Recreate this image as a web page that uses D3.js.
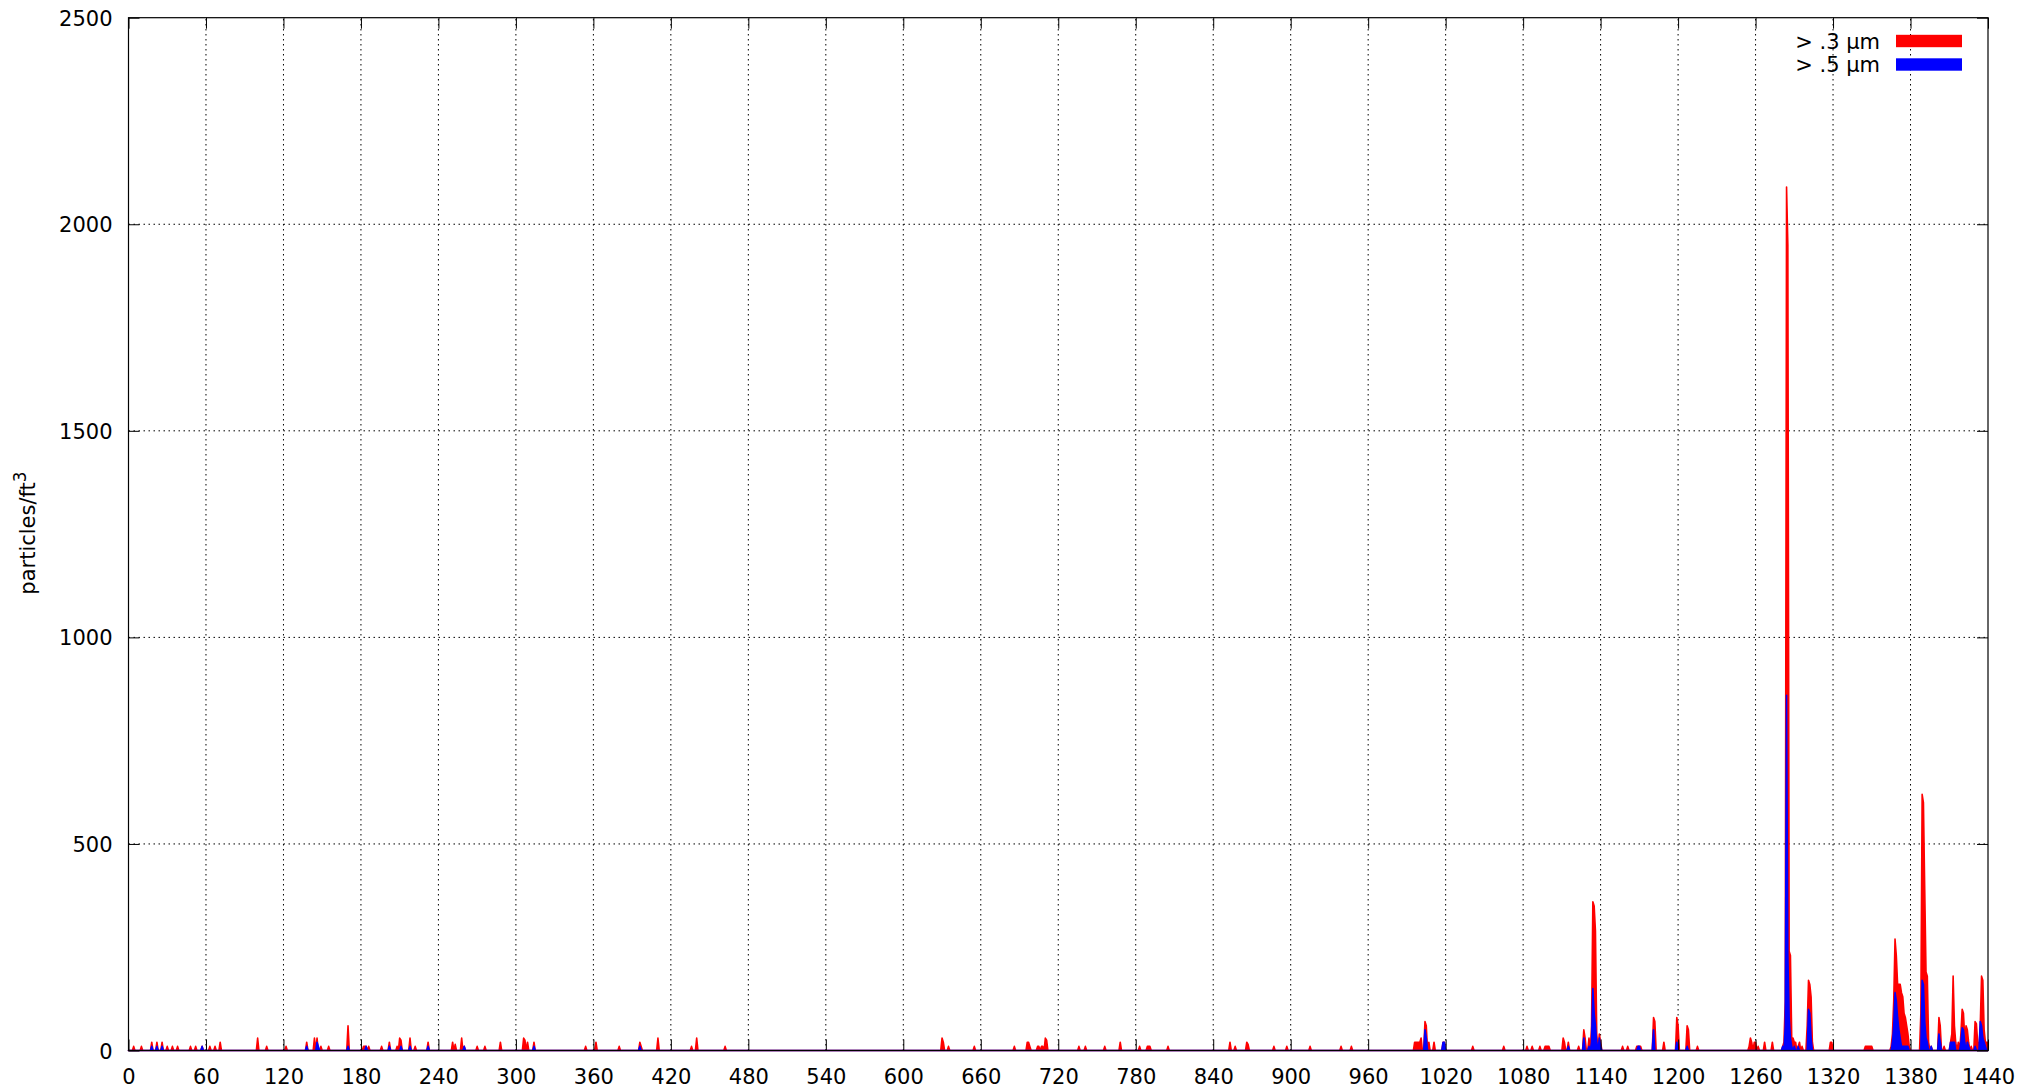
<!DOCTYPE html>
<html>
<head>
<meta charset="utf-8">
<script src="https://cdn.jsdelivr.net/npm/d3@7"></script>
<style>
  html, body { margin: 0; padding: 0; background: #fff; }
  svg text { font-family: "DejaVu Sans", sans-serif; fill: #000; }
</style>
</head>
<body>
<svg id="chart" width="2023" height="1091"></svg>
<script>
// ---- data (minute of day -> particles/ft^3), minutes not listed are 0 ----
const xTicks = [0,60,120,180,240,300,360,420,480,540,600,660,720,780,840,900,960,1020,1080,1140,1200,1260,1320,1380,1440];
const yTicks = [0,500,1000,1500,2000,2500];
const seriesNames = ["> .3 µm", "> .5 µm"];

const redMinutes = [4,10,18,22,26,30,34,38,48,52,57,63,67,71,100,107,122,138,144,146,149,155,170,182,183,184,186,196,202,208,210,211,218,222,232,251,253,258,260,270,276,288,306,307,309,314,354,362,380,396,397,410,436,440,462,630,631,635,655,686,696,697,698,704,705,707,708,710,711,736,741,756,768,783,789,790,791,805,853,857,866,867,887,897,915,939,947,996,997,998,999,1000,1001,1004,1005,1007,1011,1018,1019,1041,1065,1083,1087,1093,1097,1098,1099,1100,1111,1112,1115,1123,1127,1128,1131,1133,1134,1135,1136,1137,1139,1140,1157,1161,1168,1169,1170,1171,1181,1182,1189,1199,1200,1207,1208,1215,1255,1256,1257,1259,1260,1262,1267,1273,1281,1282,1283,1284,1285,1286,1287,1288,1289,1290,1291,1293,1294,1296,1300,1301,1302,1303,1304,1318,1319,1345,1346,1347,1348,1349,1350,1365,1366,1367,1368,1369,1370,1371,1372,1373,1374,1375,1376,1377,1378,1379,1388,1389,1390,1391,1392,1393,1394,1396,1402,1403,1406,1411,1412,1413,1414,1415,1417,1419,1420,1421,1422,1423,1424,1425,1427,1430,1431,1432,1434,1435,1436,1437,1438,1439,1440];
const redValues  = [10,10,20,20,20,10,10,10,10,10,10,10,10,20,30,10,10,20,30,30,10,10,60,10,10,10,10,10,20,10,30,25,30,10,20,20,15,30,10,10,10,20,30,25,20,20,10,20,10,20,10,30,10,30,10,30,20,10,10,10,20,20,10,10,10,10,10,30,25,10,10,10,20,10,10,10,10,10,20,10,20,15,10,10,10,10,10,20,20,20,20,20,30,70,60,20,20,20,20,10,10,10,10,10,10,10,10,10,30,20,20,10,50,30,30,60,360,350,290,40,40,20,10,10,10,10,10,10,80,70,20,80,60,60,50,10,10,30,20,20,20,10,20,20,10,20,120,2090,1950,240,230,30,30,20,20,10,20,10,60,170,160,130,20,20,20,10,10,10,10,10,10,10,40,120,270,230,160,160,160,140,130,90,80,60,40,10,90,620,600,390,190,180,20,10,80,60,10,20,40,180,60,20,20,40,100,90,30,60,50,20,10,70,65,20,60,180,170,50,20,20,20];

const blueMinutes = [18,22,26,57,138,146,147,170,184,202,211,218,232,260,314,396,1004,1005,1018,1019,1115,1127,1131,1133,1134,1135,1136,1137,1139,1140,1169,1170,1181,1199,1207,1281,1283,1284,1285,1286,1287,1288,1290,1293,1301,1302,1303,1366,1367,1368,1369,1370,1371,1372,1373,1374,1375,1376,1377,1378,1389,1390,1391,1392,1393,1396,1402,1403,1411,1412,1413,1414,1419,1420,1421,1422,1424,1425,1430,1434,1435,1436,1437,1438];
const blueValues  = [10,10,10,10,10,20,10,10,10,10,10,10,10,10,10,10,50,30,20,20,10,30,10,20,150,90,60,20,30,10,10,10,50,20,10,10,60,860,230,80,30,10,10,10,100,90,30,20,60,140,120,80,50,30,10,10,10,10,10,10,170,160,70,30,20,10,40,20,20,20,20,20,20,55,50,20,20,10,10,70,60,30,20,10];

// ---- layout ----
const svg = d3.select("#chart");
const W = 2023, H = 1091;
const L = 128.5, R = 1988, T = 17.7, B = 1050.5;
svg.append("rect").attr("width", W).attr("height", H).attr("fill", "#fff");

const x = d3.scaleLinear().domain([0, 1440]).range([L, R]);
const y = d3.scaleLinear().domain([0, 2500]).range([B, T]);

function dense(mins, vals) {
  const m = new Map(mins.map((d, i) => [d, vals[i]]));
  return d3.range(0, 1441).map(t => ({ t, v: m.has(t) ? m.get(t) : 0 }));
}
const redData = dense(redMinutes, redValues);
const blueData = dense(blueMinutes, blueValues);

// ---- grid ----
const grid = svg.append("g").attr("stroke", "#000").attr("stroke-width", 1)
  .attr("stroke-dasharray", "1.5,3.5").attr("fill", "none");
xTicks.filter(d => d > 0 && d < 1440).forEach(d => {
  grid.append("line").attr("x1", x(d)).attr("x2", x(d)).attr("y1", B).attr("y2", T);
});
yTicks.filter(d => d > 0 && d < 2500).forEach(d => {
  grid.append("line").attr("x1", L).attr("x2", R).attr("y1", y(d)).attr("y2", y(d));
});

// ---- areas ----
const area = d3.area().x(d => x(d.t)).y0(y(0)).y1(d => y(d.v)).curve(d3.curveLinear);
svg.append("path").datum(redData).attr("d", area).attr("fill", "#ff0000")
  .attr("stroke", "#ff0000").attr("stroke-width", 1.6).attr("stroke-linejoin", "round");
svg.append("path").datum(blueData).attr("d", area).attr("fill", "#0000ff")
  .attr("stroke", "#0000ff").attr("stroke-width", 1.6).attr("stroke-linejoin", "round");

// ---- axes (ticks inward, mirrored) ----
const tl = 11;
const fs = 21;
const xAxisB = d3.axisBottom(x).tickValues(xTicks).tickSize(-tl).tickFormat(d3.format("d"));
const xAxisT = d3.axisTop(x).tickValues(xTicks).tickSize(-tl).tickFormat("");
const yAxisL = d3.axisLeft(y).tickValues(yTicks).tickSize(-tl).tickPadding(16).tickFormat(d3.format("d"));
const yAxisR = d3.axisRight(y).tickValues(yTicks).tickSize(-tl).tickFormat("");

function styleAxis(g) {
  g.select(".domain").remove();
  g.selectAll("line").attr("stroke", "#000").attr("stroke-width", 1);
  g.selectAll("text").attr("font-size", fs).attr("font-family", "DejaVu Sans").attr("fill", "#000");
}
svg.append("g").attr("transform", `translate(0,${B})`).call(xAxisB).call(styleAxis)
  .selectAll("text").attr("dy", "0.71em").attr("y", 19);
svg.append("g").attr("transform", `translate(0,${T})`).call(xAxisT).call(styleAxis);
svg.append("g").attr("transform", `translate(${L},0)`).call(yAxisL).call(styleAxis)
  .selectAll("text").attr("dy", "0.36em");
svg.append("g").attr("transform", `translate(${R},0)`).call(yAxisR).call(styleAxis);

// border
svg.append("rect").attr("x", L).attr("y", T).attr("width", R - L).attr("height", B - T)
  .attr("fill", "none").attr("stroke", "#000").attr("stroke-width", 1.2);

// ---- y label ----
const yl = svg.append("text").attr("transform", `translate(35,${(T + B) / 2 - 1}) rotate(-90)`)
  .attr("text-anchor", "middle").attr("font-size", fs);
yl.append("tspan").text("particles/ft");
yl.append("tspan").attr("font-size", fs * 0.8).attr("dy", -9).text("3");

// ---- legend ----
const legColors = ["#ff0000", "#0000ff"];
const legY = [41, 64.5];
seriesNames.forEach((n, i) => {
  svg.append("text").attr("x", 1880).attr("y", legY[i]).attr("dy", "0.36em")
    .attr("text-anchor", "end").attr("font-size", fs).text(n);
  svg.append("rect").attr("x", 1896).attr("y", legY[i] - 6.2).attr("width", 66).attr("height", 12.4)
    .attr("fill", legColors[i]);
});
</script>
</body>
</html>
